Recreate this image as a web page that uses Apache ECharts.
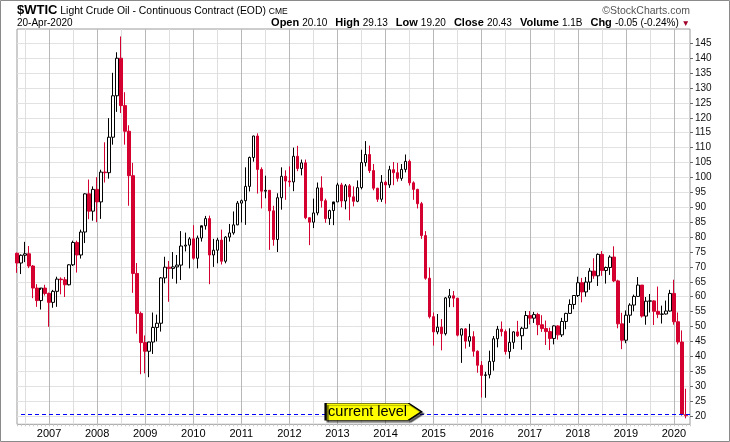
<!DOCTYPE html>
<html lang="en">
<head>
    <meta charset="UTF-8">
    <title>$WTIC</title>
    <script src="https://cdn.jsdelivr.net/npm/echarts@6/dist/echarts.min.js"></script>
    <style>
        html, body {
            margin: 0;
            padding: 0;
            background: #fff;
        }
        #chart {
            width: 730px;
            height: 442px;
        }
    </style>
</head>
<body>
<div id="chart"></div>
<script>
    // monthly bars, May 2006 .. Apr 2020 (May 2020 is an empty slot at the right edge)
    var months = [];
    for (var y = 2006; y <= 2020; y++) {
        for (var m = 1; m <= 12; m++) {
            if (y === 2006 && m < 5) continue;
            if (y === 2020 && m > 5) continue;
            months.push(y + '-' + (m < 10 ? '0' + m : m));
        }
    }

    var opens = [
        74.6, 71.3, 73.9, 74.4, 70.3, 62.9, 58.7, 62.9,
        61.1, 58.1, 61.8, 65.9, 65.7, 64.0, 70.7, 78.2, 74.0, 81.7, 94.5, 88.7,
        96.0, 91.8, 101.8, 101.6, 113.5, 127.4, 140.0, 124.1, 115.5, 100.6, 67.8, 54.4,
        44.6, 41.7, 44.8, 49.7, 51.1, 66.3, 69.9, 69.5, 70.0, 70.6, 77.0, 77.3,
        79.4, 72.9, 79.7, 83.8, 86.2, 74.0, 75.6, 79.0, 71.9, 80.0, 81.4, 84.1,
        91.4, 92.2, 97.0, 106.7, 113.9, 102.7, 95.4, 95.7, 88.8, 79.2, 93.2, 100.4,
        98.8, 98.5, 107.1, 103.0, 104.9, 86.5, 85.0, 88.1, 96.5, 92.2, 86.2, 88.9,
        91.8, 97.5, 92.1, 97.2, 93.5, 92.0, 96.6, 105.0, 107.7, 102.3, 96.4, 92.7,
        98.4, 97.5, 102.6, 101.6, 99.7, 102.7, 105.4, 98.2, 96.0, 91.2, 80.5, 66.2,
        53.3, 48.2, 49.8, 47.6, 59.6, 60.3, 59.5, 47.1, 49.2, 45.1, 46.6, 41.7,
        37.0, 33.6, 33.8, 38.3, 45.9, 49.1, 48.3, 41.6, 44.7, 48.2, 46.9, 49.4,
        53.7, 52.8, 54.0, 50.6, 49.3, 48.3, 46.0, 50.2, 47.2, 51.7, 54.4, 57.4,
        60.4, 64.7, 61.6, 64.9, 68.6, 67.0, 74.2, 68.8, 69.8, 73.3, 65.3, 50.9,
        45.4, 53.8, 57.2, 60.1, 63.9, 53.5, 58.5, 58.6, 55.1, 54.1, 54.2, 55.2,
        61.1, 51.6, 44.8, 20.10
    ];
    var highs = [
        74.8, 74.2, 78.4, 77.0, 70.6, 64.2, 62.3, 64.0,
        61.4, 62.3, 66.7, 66.5, 66.6, 70.9, 78.8, 78.8, 82.5, 94.7, 99.3, 97.0,
        100.1, 102.6, 111.8, 119.9, 135.1, 142.0, 147.3, 128.6, 117.5, 104.9, 71.3, 55.0,
        47.0, 44.9, 54.7, 54.0, 66.6, 73.4, 72.0, 75.0, 74.0, 82.0, 81.5, 80.0,
        84.0, 80.5, 83.2, 87.1, 87.2, 79.4, 79.8, 82.5, 80.3, 84.4, 88.6, 92.1,
        92.6, 103.4, 107.0, 114.0, 114.8, 103.4, 100.6, 95.7, 90.5, 94.7, 103.4, 102.4,
        103.7, 110.0, 110.6, 106.0, 106.0, 86.6, 92.9, 98.3, 100.4, 92.9, 89.2, 91.0,
        98.2, 98.2, 97.8, 97.8, 97.0, 99.0, 109.3, 112.2, 110.7, 104.5, 96.5, 100.8,
        98.9, 103.9, 105.2, 104.9, 104.5, 107.7, 106.0, 98.7, 96.2, 91.8, 82.0, 69.8,
        54.7, 54.2, 52.5, 59.9, 62.6, 61.9, 59.6, 49.3, 49.5, 50.9, 48.4, 42.0,
        38.4, 34.8, 41.9, 46.8, 50.2, 51.7, 49.0, 49.4, 48.4, 51.9, 49.9, 55.2,
        55.2, 54.9, 54.6, 53.8, 52.0, 49.6, 50.4, 50.4, 52.9, 54.6, 59.1, 60.5,
        66.7, 66.3, 66.6, 69.6, 72.9, 74.5, 75.3, 70.1, 73.9, 76.9, 65.7, 54.6,
        55.4, 57.8, 60.7, 66.6, 63.9, 59.9, 60.9, 58.8, 63.4, 57.0, 58.7, 62.3,
        65.7, 54.7, 48.7, 29.13
    ];
    var lows = [
        68.0, 67.6, 71.6, 69.6, 59.5, 56.6, 55.7, 60.4,
        49.9, 56.3, 56.6, 60.8, 59.9, 63.8, 70.3, 68.1, 72.8, 78.0, 86.0, 85.5,
        85.0, 86.1, 98.3, 99.6, 111.0, 122.0, 121.6, 111.0, 90.5, 61.3, 47.6, 34.0,
        34.3, 33.0, 40.8, 45.0, 48.3, 64.5, 58.3, 66.0, 64.4, 65.6, 75.2, 69.5,
        72.4, 69.5, 78.5, 82.5, 64.2, 70.0, 71.2, 70.8, 71.2, 78.5, 80.8, 84.0,
        84.9, 84.1, 95.3, 105.3, 94.6, 89.6, 93.0, 75.7, 77.1, 75.0, 89.2, 92.5,
        96.9, 95.4, 102.1, 100.7, 86.0, 77.3, 83.0, 87.3, 89.9, 84.8, 84.1, 84.0,
        91.8, 90.0, 89.3, 85.6, 90.3, 91.7, 96.0, 103.7, 101.5, 95.7, 91.8, 91.8,
        91.2, 96.5, 97.4, 98.6, 98.9, 101.7, 97.3, 92.5, 89.6, 79.4, 65.7, 52.7,
        43.6, 47.4, 42.0, 47.0, 56.5, 56.5, 46.7, 37.8, 42.6, 43.2, 39.9, 34.5,
        26.2, 26.1, 32.6, 35.2, 43.0, 46.7, 40.6, 39.2, 42.5, 46.5, 42.2, 49.4,
        50.7, 51.2, 47.1, 48.2, 43.8, 42.1, 44.0, 45.6, 46.5, 49.1, 54.2, 55.8,
        59.9, 58.1, 60.0, 62.3, 66.0, 63.6, 67.0, 64.4, 67.3, 64.9, 49.4, 42.4,
        44.4, 51.2, 55.1, 60.1, 53.0, 50.6, 54.7, 50.5, 52.8, 51.0, 54.0, 55.0,
        50.6, 44.0, 20.1, 19.20
    ];
    var closes = [
        71.3, 73.9, 74.4, 70.3, 62.9, 58.7, 62.9, 61.1,
        58.1, 61.8, 65.9, 65.7, 64.0, 70.7, 78.2, 74.0, 81.7, 94.5, 88.7, 96.0,
        91.8, 101.8, 101.6, 113.5, 127.4, 140.0, 124.1, 115.5, 100.6, 67.8, 54.4, 44.6,
        41.7, 44.8, 49.7, 51.1, 66.3, 69.9, 69.5, 70.0, 70.6, 77.0, 77.3, 79.4,
        72.9, 79.7, 83.8, 86.2, 74.0, 75.6, 79.0, 71.9, 80.0, 81.4, 84.1, 91.4,
        92.2, 97.0, 106.7, 113.9, 102.7, 95.4, 95.7, 88.8, 79.2, 93.2, 100.4, 98.8,
        98.5, 107.1, 103.0, 104.9, 86.5, 85.0, 88.1, 96.5, 92.2, 86.2, 88.9, 91.8,
        97.5, 92.1, 97.2, 93.5, 92.0, 96.6, 105.0, 107.7, 102.3, 96.4, 92.7, 98.4,
        97.5, 102.6, 101.6, 99.7, 102.7, 105.4, 98.2, 96.0, 91.2, 80.5, 66.2, 53.3,
        48.2, 49.8, 47.6, 59.6, 60.3, 59.5, 47.1, 49.2, 45.1, 46.6, 41.7, 37.0,
        33.6, 33.8, 38.3, 45.9, 49.1, 48.3, 41.6, 44.7, 48.2, 46.9, 49.4, 53.7,
        52.8, 54.0, 50.6, 49.3, 48.3, 46.0, 50.2, 47.2, 51.7, 54.4, 57.4, 60.4,
        64.7, 61.6, 64.9, 68.6, 67.0, 74.2, 68.8, 69.8, 73.3, 65.3, 50.9, 45.4,
        53.8, 57.2, 60.1, 63.9, 53.5, 58.5, 58.6, 55.1, 54.1, 54.2, 55.2, 61.1,
        51.6, 44.8, 20.48, 20.43
    ];

    var priceTicks = [20, 25, 30, 35, 40, 45, 50, 55, 60, 65, 70, 75, 80, 85, 90,
        95, 100, 105, 110, 115, 120, 125, 130, 135, 140, 145];
    var currentLevel = 20.43;
    var calloutAt = '2014-10';

    var RED = '#d4002f';
    var BLACK = '#000';
    var FONT = '"Liberation Sans", Arial, sans-serif';

    // stockcharts style: colour from close vs previous close, hollow when close >= open
    var bars = [];
    for (var i = 0; i < opens.length; i++) {
        var prev = i > 0 ? closes[i - 1] : opens[i];
        var stroke = closes[i] >= prev ? BLACK : RED;
        var fill = closes[i] >= opens[i] ? '#fff' : stroke;
        bars.push({
            value: [opens[i], closes[i], lows[i], highs[i]],
            itemStyle: {color: fill, color0: fill, borderColor: stroke, borderColor0: stroke}
        });
    }

    // header text runs, laid out on a common baseline
    var ctx = document.createElement('canvas').getContext('2d');
    function textRow(pieces, x, baseline, alignRight) {
        var widths = pieces.map(function (p) {
            ctx.font = (p.bold ? 'bold ' : '') + p.size + 'px ' + FONT;
            return ctx.measureText(p.text).width + (p.gap || 0);
        });
        if (alignRight) {
            x -= widths.reduce(function (a, b) { return a + b; }, 0);
        }
        return pieces.map(function (p, k) {
            var el = {
                type: 'text',
                silent: true,
                style: {
                    x: x,
                    y: baseline - p.size * 0.35,
                    text: p.text,
                    font: (p.bold ? 'bold ' : '') + p.size + 'px ' + FONT,
                    fill: p.color || '#000',
                    align: 'left',
                    verticalAlign: 'middle'
                }
            };
            x += widths[k];
            return el;
        });
    }

    var header = [].concat(
        textRow([
            {text: '$WTIC', size: 13, bold: true},
            {text: ' Light Crude Oil - Continuous Contract (EOD) ', size: 10.4},
            {text: 'CME', size: 8.5}
        ], 17, 15, false),
        textRow([{text: '20-Apr-2020', size: 10}], 17, 26.5, false),
        textRow([{text: '©StockCharts.com', size: 10.5, color: '#555'}], 690, 15, true),
        textRow([
            {text: 'Open ', size: 11, bold: true}, {text: '20.10', size: 10, gap: 8},
            {text: 'High ', size: 11, bold: true}, {text: '29.13', size: 10, gap: 8},
            {text: 'Low ', size: 11, bold: true}, {text: '19.20', size: 10, gap: 8},
            {text: 'Close ', size: 11, bold: true}, {text: '20.43', size: 10, gap: 8},
            {text: 'Volume ', size: 11, bold: true}, {text: '1.1B', size: 10, gap: 8},
            {text: 'Chg ', size: 11, bold: true}, {text: '-0.05 (-0.24%) ', size: 10},
            {text: '▼', size: 8.5, color: '#a0002a'}
        ], 690, 26.5, true)
    );

    var isJan = function (idx, val) { return val.slice(5) === '01'; };
    var isJul = function (idx, val) { return val.slice(5) === '07'; };

    var myChart = echarts.init(document.getElementById('chart'), null, {renderer: 'canvas'});
    var option = {
        animation: false,
        backgroundColor: '#fff',
        textStyle: {fontFamily: FONT},
        graphic: [{
            type: 'rect',
            silent: true,
            shape: {x: 0.5, y: 0.5, width: 729, height: 441},
            style: {fill: 'none', stroke: '#8a8a8a', lineWidth: 1}
        }].concat(header),
        grid: {
            left: 17,
            top: 29,
            width: 673,
            height: 395.3,
            show: true,
            backgroundColor: '#fff',
            borderColor: '#9a9a9a',
            borderWidth: 1
        },
        xAxis: [
            {
                type: 'category',
                data: months,
                boundaryGap: false,
                axisLine: {show: false},
                axisTick: {show: true, interval: 0, length: 2, lineStyle: {color: '#c8c8c8'}},
                axisLabel: {
                    interval: isJan,
                    formatter: function (v) { return v.slice(0, 4); },
                    color: '#000',
                    fontSize: 11,
                    margin: 4
                },
                splitLine: {show: true, interval: isJan, lineStyle: {color: '#b8b8b8', width: 1}}
            },
            {
                type: 'category',
                data: months,
                boundaryGap: false,
                position: 'bottom',
                axisLine: {show: false},
                axisTick: {show: false},
                axisLabel: {show: false},
                splitLine: {show: true, interval: isJul, lineStyle: {color: '#dedede', width: 1}}
            }
        ],
        yAxis: {
            type: 'value',
            position: 'right',
            min: 17.2,
            max: 149.8,
            axisLine: {show: false},
            axisTick: {show: true, length: 3, customValues: priceTicks, lineStyle: {color: '#666'}},
            axisLabel: {customValues: priceTicks, margin: 5, fontSize: 10, color: '#111'},
            splitLine: {show: true, lineStyle: {color: '#e2e2e2', width: 1}}
        },
        series: [{
            type: 'candlestick',
            name: '$WTIC',
            data: bars,
            barWidth: 3,
            clip: true,
            itemStyle: {borderWidth: 1},
            markLine: {
                silent: true,
                symbol: 'none',
                z: 3,
                label: {show: false},
                lineStyle: {color: '#0000ff', type: [4, 3], width: 1},
                data: [[
                    {coord: [months[1], currentLevel]},
                    {coord: [months[months.length - 1], currentLevel]}
                ]]
            },
            markPoint: {
                silent: true,
                z: 10,
                symbol: 'path://M0 0H83L96 8.5L83 17H0Z',
                symbolSize: [96, 17],
                symbolOffset: [-48, -3],
                itemStyle: {
                    color: '#ffff00',
                    borderColor: '#000',
                    borderWidth: 1,
                    shadowColor: 'rgba(0,0,0,0.55)',
                    shadowBlur: 1,
                    shadowOffsetX: 2,
                    shadowOffsetY: 2
                },
                label: {
                    show: true,
                    position: 'inside',
                    offset: [-6, 0],
                    formatter: 'current level',
                    color: '#000',
                    fontSize: 14.5
                },
                data: [{coord: [calloutAt, currentLevel]}]
            }
        }]
    };
    myChart.setOption(option);
</script>
</body>
</html>
